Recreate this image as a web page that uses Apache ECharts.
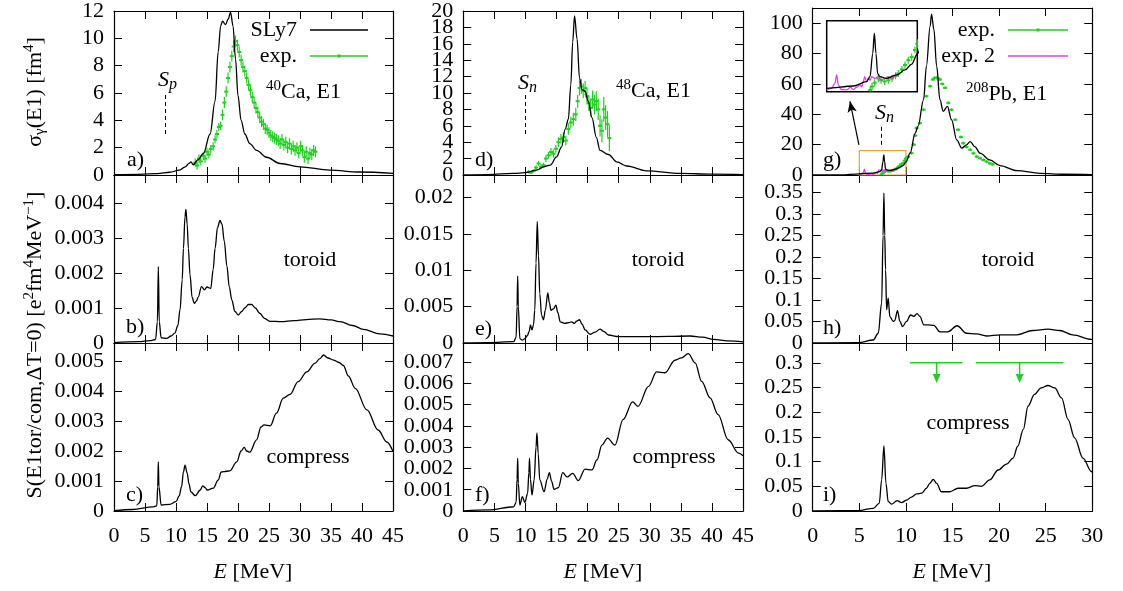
<!DOCTYPE html>
<html><head><meta charset="utf-8">
<script src="https://cdn.jsdelivr.net/npm/echarts/dist/echarts.min.js"></script>
<style>html,body{margin:0;padding:0;background:#fff}#c{width:1123px;height:591px}</style>
</head><body><div id="c"></div>
<script>
// ---------------- DATA ----------------
const xTicks45 = [0,5,10,15,20,25,30,35,40,45];
const xTicks30 = [0,5,10,15,20,25,30];
const yTicksA = [0,2,4,6,8,10,12];
const yTicksD = [0,2,4,6,8,10,12,14,16,18,20];
const yTicksG = [0,20,40,60,80,100];
const yTicksB = [0,0.001,0.002,0.003,0.004];
const yTicksE = [0,0.005,0.01,0.015,0.02];
const yTicksH = [0,0.05,0.1,0.15,0.2,0.25,0.3,0.35];
const yTicksC = [0,0.001,0.002,0.003,0.004,0.005];
const yTicksF = [0,0.001,0.002,0.003,0.004,0.005,0.006,0.007];
const yTicksI = [0,0.05,0.1,0.15,0.2,0.25,0.3];

// a) 40Ca sigma(E1) SLy7
const ca40Sigma = [[0,0.02],[4,0.05],[7,0.1],[9,0.2],[10.5,0.35],[11.5,0.6],[12.1,0.85],[12.4,0.96],[12.8,0.75],[13.5,1.1],[14.4,1.56],[15.5,3.0],[16.3,5.4],[16.8,9.0],[17.2,10.9],[17.5,11.25],[18.0,11.0],[18.4,11.4],[18.8,11.9],[19.2,10.9],[19.6,8.5],[20.0,5.8],[20.5,4.0],[21.1,3.0],[21.9,2.3],[23.0,1.8],[24.6,1.3],[26.8,0.84],[30,0.6],[34.8,0.36],[39.6,0.22],[45,0.12]];
// a) 40Ca experimental [E, sigma, error]
const ca40Exp = [[13.1,0.9,0.3],[13.4,0.7,0.3],[13.7,1.2,0.3],[14.0,1.0,0.3],[14.4,1.4,0.3],[14.7,1.2,0.3],[15.0,1.7,0.3],[15.3,1.5,0.3],[15.6,1.9,0.3],[16.0,2.1,0.3],[16.3,2.6,0.3],[16.6,3.0,0.3],[16.9,3.5,0.3],[17.2,3.6,0.3],[17.5,4.4,0.4],[17.8,5.3,0.4],[18.1,6.1,0.4],[18.4,7.1,0.4],[18.7,7.9,0.4],[19.0,8.7,0.4],[19.3,9.4,0.4],[19.6,9.8,0.4],[19.9,9.5,0.4],[20.2,9.0,0.4],[20.5,8.4,0.4],[20.8,7.9,0.4],[21.1,7.6,0.4],[21.4,7.1,0.4],[21.7,6.6,0.4],[22.0,6.2,0.4],[22.3,5.7,0.4],[22.6,5.3,0.4],[22.9,4.9,0.4],[23.2,4.6,0.4],[23.5,4.2,0.4],[23.8,3.9,0.4],[24.1,3.7,0.4],[24.4,3.4,0.4],[24.7,3.3,0.4],[25.0,3.1,0.4],[25.3,2.9,0.4],[25.6,2.8,0.4],[25.9,2.7,0.4],[26.2,2.6,0.4],[26.5,2.5,0.4],[26.8,2.3,0.4],[27.1,2.6,0.4],[27.4,2.2,0.4],[27.7,2.4,0.4],[28.0,2.0,0.4],[28.3,2.3,0.4],[28.6,1.9,0.4],[28.9,2.1,0.4],[29.2,1.8,0.4],[29.5,2.0,0.4],[29.8,1.6,0.4],[30.1,2.1,0.4],[30.4,1.8,0.4],[30.7,1.3,0.4],[31.0,1.7,0.4],[31.3,1.2,0.4],[31.6,1.6,0.4],[31.9,1.5,0.4],[32.2,1.8,0.4],[32.5,1.7,0.4]];
// b) 40Ca toroidal strength
const ca40Tor = [[0,0.00001],[4,0.00004],[5.8,0.00007],[6.7,0.0001],[7.0,0.0006],[7.15,0.00218],[7.3,0.0006],[7.6,0.00015],[8.5,0.00013],[9.2,0.0002],[9.8,0.00028],[10.3,0.0005],[10.65,0.00095],[11.0,0.0018],[11.2,0.0027],[11.45,0.0036],[11.6,0.00382],[11.8,0.0034],[12.0,0.0027],[12.26,0.00195],[12.6,0.0013],[12.96,0.00113],[13.3,0.0012],[13.6,0.00132],[14.1,0.00161],[14.6,0.00152],[15.0,0.0016],[15.6,0.00156],[16.0,0.0021],[16.3,0.0027],[16.7,0.0033],[17.1,0.0035],[17.4,0.0034],[17.8,0.0029],[18.2,0.0022],[18.6,0.0016],[19.0,0.00123],[19.5,0.0009],[20.05,0.0008],[20.6,0.0009],[21.1,0.001],[21.7,0.0011],[22.2,0.0011],[22.8,0.001],[23.5,0.00085],[24.3,0.0007],[25.2,0.00062],[27,0.00061],[29,0.00064],[31,0.00067],[33.2,0.00069],[35,0.00066],[36.5,0.00061],[38.5,0.0005],[40.2,0.00039],[42.9,0.00026],[45,0.0002]];
// c) 40Ca compression strength
const ca40Com = [[0,0.00001],[3,0.00005],[6.3,0.00014],[6.9,0.00017],[7.05,0.0008],[7.15,0.00164],[7.25,0.0008],[7.6,0.0002],[9.0,0.00022],[10.0,0.00031],[10.5,0.0005],[10.9,0.00081],[11.2,0.0013],[11.45,0.00153],[11.8,0.00126],[12.1,0.0009],[12.4,0.00064],[13.1,0.00051],[13.9,0.0007],[14.3,0.00084],[14.7,0.00078],[15.05,0.0007],[16.0,0.00076],[16.8,0.00103],[17.3,0.0013],[17.7,0.00131],[18.7,0.00134],[19.8,0.00164],[20.5,0.002],[21.0,0.00212],[21.4,0.002],[21.9,0.00196],[23.0,0.00237],[23.7,0.0028],[24.2,0.00287],[25.2,0.00284],[26.2,0.00326],[27.3,0.00376],[28.4,0.00389],[29.7,0.00431],[31.1,0.00464],[32.4,0.00492],[33.2,0.00508],[33.8,0.0052],[34.5,0.0051],[35.4,0.00503],[36.3,0.00495],[37.0,0.00485],[37.8,0.0045],[38.9,0.00409],[40.8,0.00337],[42.6,0.0027],[44,0.0023],[45,0.00198]];
// d) 48Ca sigma(E1) SLy7
const ca48Sigma = [[0,0.02],[4,0.05],[8,0.2],[10,0.28],[11.8,0.6],[12.9,1.0],[14.0,1.2],[15.0,2.2],[15.8,3.4],[16.4,5.6],[16.9,6.8],[17.3,11.0],[17.6,16.2],[17.9,19.4],[18.3,16.6],[18.7,11.8],[19.1,10.4],[19.6,10.2],[20.1,9.0],[20.7,7.0],[21.4,4.6],[22.0,3.0],[23.35,2.5],[24.7,1.6],[26.3,1.1],[29.5,0.5],[34.9,0.2],[40,0.1],[45,0.05]];
// d) 48Ca experimental [E, sigma, error]
const ca48Exp = [[10.5,0.4,0.2],[10.9,0.3,0.2],[11.3,0.5,0.2],[11.7,0.9,0.3],[12.1,1.4,0.3],[12.5,1.0,0.3],[12.9,1.2,0.3],[13.3,2.0,0.4],[13.7,2.4,0.4],[14.1,2.8,0.5],[14.5,2.6,0.5],[14.9,3.2,0.5],[15.3,4.0,0.6],[15.7,4.4,0.6],[16.1,4.6,0.6],[16.5,4.2,0.6],[16.9,5.6,0.7],[17.3,6.4,0.7],[17.7,6.8,0.8],[18.1,7.4,0.8],[18.4,9.0,0.8],[18.7,10.6,0.9],[19.0,10.8,0.9],[19.3,10.3,0.9],[19.6,10.6,0.9],[19.9,9.6,1.0],[20.2,8.8,1.0],[20.5,8.2,1.1],[20.8,9.2,1.1],[21.1,8.6,1.2],[21.4,9.0,1.2],[21.7,8.0,1.3],[22.0,6.0,1.3],[22.3,5.4,1.4],[22.6,8.0,1.5],[22.9,7.0,1.5],[23.2,6.2,1.6],[23.5,4.5,1.6]];
// e) 48Ca toroidal strength
const ca48Tor = [[0,0],[4,0.00005],[8.1,0.00018],[8.5,0.0008],[8.65,0.005],[8.75,0.0092],[8.85,0.005],[9.1,0.0006],[9.5,0.0004],[9.9,0.0006],[10.3,0.001],[10.6,0.0016],[10.8,0.0025],[11.05,0.0018],[11.3,0.0025],[11.5,0.0045],[11.7,0.011],[11.9,0.0167],[12.1,0.012],[12.3,0.0068],[12.6,0.0038],[12.9,0.0032],[13.2,0.0045],[13.6,0.0069],[13.85,0.0055],[14.1,0.0045],[14.5,0.0047],[14.9,0.0052],[15.2,0.0042],[15.6,0.0029],[16.3,0.0027],[17.0,0.0028],[17.4,0.0029],[17.9,0.0027],[18.2,0.003],[18.7,0.0032],[19.1,0.0026],[19.6,0.0018],[20.4,0.0012],[21.2,0.0015],[22.0,0.0019],[22.6,0.0016],[23.35,0.0011],[24.95,0.00087],[29.5,0.00087],[33,0.0009],[36.5,0.00096],[38.5,0.0008],[40.3,0.0005],[42.5,0.0003],[45,0.00015]];
// f) 48Ca compression strength
const ca48Com = [[0,0],[4,0.00005],[8.1,0.0002],[8.5,0.0004],[8.65,0.0015],[8.75,0.00248],[8.85,0.0013],[9.1,0.00028],[9.5,0.00068],[9.9,0.0004],[10.35,0.00083],[10.55,0.0018],[10.65,0.00248],[10.8,0.0015],[11.05,0.00075],[11.4,0.00146],[11.7,0.003],[11.85,0.00367],[12.05,0.0027],[12.3,0.00146],[13.0,0.00091],[13.5,0.0015],[13.85,0.0018],[14.2,0.0014],[14.6,0.00102],[15.3,0.0011],[16.0,0.0018],[16.7,0.0016],[17.6,0.00177],[18.5,0.00143],[19.6,0.00197],[20.7,0.00193],[21.5,0.0024],[22.3,0.0031],[23.2,0.00343],[24.4,0.0031],[25.7,0.0043],[27.25,0.00513],[28.1,0.00492],[29.8,0.00586],[31.1,0.00654],[32.45,0.0065],[34.05,0.00709],[35.1,0.0072],[36.2,0.0074],[37.3,0.00697],[38.35,0.0061],[39.7,0.00532],[41.0,0.00453],[42.6,0.00335],[44.3,0.00272],[45,0.0026]];
// g) 208Pb sigma(E1) SLy7
const pbSigma = [[0,0],[3,0.1],[5,0.77],[6.47,1.28],[7.2,2.25],[7.39,3.4],[7.54,8.6],[7.63,13.2],[7.72,8.6],[7.81,4.1],[7.94,3.4],[8.3,3.0],[8.86,3.8],[9.32,4.9],[9.69,6.2],[10.0,8.5],[10.45,14.4],[11.0,27.6],[11.3,32],[11.9,49.7],[12.2,71.7],[12.6,98],[12.75,106],[13.0,96],[13.3,71.7],[13.65,49.7],[14.0,41.9],[14.45,45.2],[14.9,36.4],[15.45,23.2],[16.0,17.7],[16.5,19.9],[16.9,22.0],[17.4,18.7],[17.95,14.4],[19.0,9.9],[20.1,6.2],[21.9,2.9],[24.4,1.1],[27,0.5],[30,0.3]];
// g) 208Pb experimental [E, sigma, error]
const pbExp = [[7.4,0.4,0.8],[7.5,1.2,0.8],[7.65,2.0,0.8],[7.85,3.0,0.8],[8.0,2.6,0.8],[8.2,2.3,0.8],[8.4,2.6,0.8],[8.6,3.0,0.8],[8.8,3.6,0.8],[8.95,4.1,0.8],[9.15,5.0,0.8],[9.32,6.0,0.8],[9.5,7.1,0.8],[9.69,7.8,0.8],[9.87,9.4,0.8],[10.0,10.8,1],[10.25,12.0,1],[10.6,14.4,1],[10.85,20,1],[11.0,26,1],[11.15,30.9,1],[11.5,34.2,1],[11.9,43,1],[12.2,51.9,1],[12.6,58.5,1],[12.9,62.9,1],[13.1,64,1],[13.3,64,1],[13.5,63.5,1],[13.65,62.9,1],[13.9,60,1],[14.2,57.4,1],[14.55,47.5,1],[14.9,43,1],[15.3,36.4,1],[15.6,29.8,1],[15.9,25,1],[16.15,21,1],[16.5,18.5,1],[16.9,16.6,1],[17.25,14.3,1],[17.6,12.1,1],[17.95,11,1],[18.3,9.9,1],[18.65,8.8,1],[19.0,7.7,1],[19.3,7.0,1]];
// g) 208Pb experimental 2
const pbExp2 = [[5.0,0.4],[5.28,0.8],[5.46,2.0],[5.55,3.8],[5.64,1.5],[5.8,0.5],[6.1,0.4],[6.3,1.0],[6.47,0.5],[6.65,1.0],[6.84,1.5],[6.93,1.1],[7.02,2.25],[7.1,3.4],[7.2,2.3],[7.3,3.0],[7.4,2.6],[7.48,3.4],[7.67,3.0],[7.85,3.4],[8.0,2.6],[8.2,3.0],[8.4,3.4],[8.6,3.0],[8.75,3.4],[8.95,3.8]];
// h) 208Pb toroidal strength
const pbTor = [[0,0],[4.9,0.001],[6.5,0.007],[7.03,0.0226],[7.4,0.093],[7.55,0.25],[7.64,0.348],[7.73,0.25],[7.82,0.17],[7.93,0.077],[8.1,0.104],[8.28,0.061],[8.64,0.05],[8.8,0.052],[9.1,0.075],[9.36,0.05],[9.64,0.038],[10.07,0.05],[10.5,0.065],[10.85,0.062],[11.2,0.068],[11.5,0.062],[11.93,0.042],[12.4,0.042],[13.0,0.041],[13.65,0.026],[14.5,0.026],[15.5,0.04],[16.5,0.0226],[17.6,0.021],[18.65,0.0163],[20.1,0.019],[21.9,0.019],[23.6,0.029],[25.25,0.032],[26.5,0.029],[27.9,0.019],[29.9,0.0086],[30,0.0085]];
// i) 208Pb compression strength
const pbCom = [[0,0],[4.9,0.0007],[6.5,0.0055],[7.14,0.0156],[7.4,0.063],[7.64,0.132],[7.86,0.056],[8.1,0.019],[8.46,0.014],[9.07,0.021],[9.54,0.017],[10.07,0.022],[10.6,0.028],[11.15,0.0345],[11.7,0.036],[12.2,0.046],[12.57,0.056],[12.93,0.064],[13.3,0.056],[13.8,0.039],[14.7,0.039],[15.6,0.046],[16.5,0.046],[17.4,0.0515],[18.1,0.05],[19.0,0.063],[19.9,0.083],[20.8,0.095],[21.5,0.107],[22.0,0.131],[22.6,0.165],[23.1,0.212],[23.8,0.236],[24.5,0.249],[25.25,0.254],[25.97,0.249],[26.7,0.229],[27.4,0.185],[28.1,0.148],[29.0,0.107],[29.9,0.08],[30,0.078]];
// i) experimental upper limits [Elow, Ehigh, Ecentre, value, arrowTip]
const pbComLimits = [[10.43,16.07,13.3,0.3,0.259],[17.5,26.9,22.2,0.3,0.259]];
// threshold markers [E, yLow, yHigh]
const spCa40 = [8.3,3.0,6.0];
const snCa48 = [9.95,5.0,9.9];
const snPb = [7.4,19.9,33.6];
// inset pointer arrow [E0, y0, E1, y1] and zoom box [E0, y0, E1, y1]
const pbArrow = [4.96,19.9,4.0,48.5];
const pbBox = [5,0,10,16];

// ---------------- LAYOUT ----------------
const FONT = 'Liberation Serif';
const GREEN = '#1fd11f', MAG = '#e040e0', ORANGE = '#e8a33a';
const COLS = [{left:114,width:279},{left:463.3,width:279.7},{left:812.7,width:279.6}];
const ROWS = [{top:8,height:167},{top:175,height:168},{top:343,height:168}];
// panels: index = row*3+col
const PANELS = [
  {xMax:45,yMax:12,yT:yTicksA},
  {xMax:45,yMax:20,yT:yTicksD},
  {xMax:30,yMax:110,yT:yTicksG},
  {xMax:45,yMax:0.0048,yT:yTicksB},
  {xMax:45,yMax:0.0231,yT:yTicksE},
  {xMax:30,yMax:0.39,yT:yTicksH},
  {xMax:45,yMax:0.0056,yT:yTicksC},
  {xMax:45,yMax:0.0079,yT:yTicksF},
  {xMax:30,yMax:0.34,yT:yTicksI}
];
const X_TICKS = {45:xTicks45,30:xTicks30};

const grids=[], xAxes=[], yAxes=[];
const lineSt = {color:'#000',width:1.2};
const tickSt = {color:'#000',width:1};
const lblBase = {color:'#000',fontFamily:FONT,fontSize:22,hideOverlap:false};
PANELS.forEach((p,gi)=>{
  const r=Math.floor(gi/3), c=gi%3;
  grids.push({left:COLS[c].left,width:COLS[c].width,top:ROWS[r].top,height:ROWS[r].height,containLabel:false});
  const xt = X_TICKS[p.xMax];
  // x axes: bottom (index 2gi) and mirrored top (2gi+1)
  xAxes.push({type:'value',gridIndex:gi,position:'bottom',min:0,max:p.xMax,
    axisLine:{show:true,onZero:false,lineStyle:lineSt},
    axisTick:{show:true,inside:true,length:8,customValues:xt,lineStyle:tickSt},
    axisLabel:Object.assign({show:r===2,margin:14,customValues:xt,showMinLabel:true,showMaxLabel:true},lblBase),
    splitLine:{show:false}});
  xAxes.push({type:'value',gridIndex:gi,position:'top',min:0,max:p.xMax,
    axisLine:{show:true,onZero:false,lineStyle:lineSt},
    axisTick:{show:true,inside:true,length:8,customValues:xt,lineStyle:tickSt},
    axisLabel:{show:false},splitLine:{show:false}});
  // y axes: left with even labels (3gi), left with odd labels (3gi+1), mirrored right (3gi+2)
  const ev = p.yT.filter((v,i)=>i%2===0), od = p.yT.filter((v,i)=>i%2===1);
  yAxes.push({type:'value',gridIndex:gi,position:'left',offset:0,min:0,max:p.yMax,
    axisLine:{show:true,onZero:false,lineStyle:lineSt},
    axisTick:{show:true,inside:true,length:8,customValues:p.yT,lineStyle:tickSt},
    axisLabel:Object.assign({show:true,customValues:ev,margin:10,showMinLabel:true,showMaxLabel:true},lblBase),
    splitLine:{show:false}});
  yAxes.push({type:'value',gridIndex:gi,position:'left',offset:0,min:0,max:p.yMax,
    axisLine:{show:false},axisTick:{show:false},
    axisLabel:Object.assign({show:true,customValues:od,margin:10,showMinLabel:true,showMaxLabel:true},lblBase),
    splitLine:{show:false}});
  yAxes.push({type:'value',gridIndex:gi,position:'right',min:0,max:p.yMax,
    axisLine:{show:true,onZero:false,lineStyle:lineSt},
    axisTick:{show:true,inside:true,length:8,customValues:p.yT,lineStyle:tickSt},
    axisLabel:{show:false},splitLine:{show:false}});
});
// inset grid (index 9): xAxis 18, yAxis 27
grids.push({left:826.7,top:20.7,width:90.6,height:71,show:true,borderColor:'#000',borderWidth:1.5,backgroundColor:'#fff',containLabel:false});
xAxes.push({type:'value',gridIndex:9,min:pbBox[0],max:pbBox[2],show:false});
yAxes.push({type:'value',gridIndex:9,min:pbBox[1],max:pbBox[3],show:false});
const XI = gi => gi===9 ? 18 : 2*gi;
const YI = gi => gi===9 ? 27 : 3*gi;

function lineSeries(gi,data,color,extra){
  return Object.assign({type:'line',xAxisIndex:XI(gi),yAxisIndex:YI(gi),data:data,
    showSymbol:false,symbol:'none',smooth:0.35,smoothMonotone:'x',clip:true,
    lineStyle:{color:color,width:1.3},itemStyle:{color:color},z:3},extra||{});
}
function errRender(params,api){
  const x=api.value(0),y=api.value(1),e=api.value(2);
  const p=api.coord([x,y]),lo=api.coord([x,y-e]),hi=api.coord([x,y+e]);
  return {type:'group',children:[
    {type:'line',shape:{x1:p[0],y1:lo[1],x2:p[0],y2:hi[1]},style:{stroke:GREEN,lineWidth:1.2}},
    {type:'line',shape:{x1:p[0]-2,y1:p[1],x2:p[0]+2,y2:p[1]},style:{stroke:GREEN,lineWidth:2}}
  ]};
}
function errSeries(gi,data,z){
  return {type:'custom',xAxisIndex:XI(gi),yAxisIndex:YI(gi),data:data,
    renderItem:errRender,clip:true,z:z||2,encode:{x:0,y:1}};
}
function limRender(params,api){
  const a=api.coord([api.value(0),api.value(3)]), b=api.coord([api.value(1),api.value(3)]);
  const c0=api.coord([api.value(2),api.value(3)]), tip=api.coord([api.value(2),api.value(4)]);
  return {type:'group',children:[
    {type:'line',shape:{x1:a[0],y1:a[1],x2:b[0],y2:b[1]},style:{stroke:GREEN,lineWidth:1.5}},
    {type:'line',shape:{x1:c0[0],y1:c0[1],x2:tip[0],y2:tip[1]-6},style:{stroke:GREEN,lineWidth:1.5}},
    {type:'polygon',shape:{points:[[tip[0]-4,tip[1]-9],[tip[0]+4,tip[1]-9],[tip[0],tip[1]]]},style:{fill:GREEN}}
  ]};
}
function dashMark(m){
  return {silent:true,symbol:['none','none'],label:{show:false},animation:false,
    lineStyle:{type:[4,3],color:'#000',width:1},
    data:[[{coord:[m[0],m[1]]},{coord:[m[0],m[2]]}]]};
}

const series = [
  lineSeries(0,ca40Sigma,'#000',{markLine:dashMark(spCa40)}),
  errSeries(0,ca40Exp),
  lineSeries(1,ca48Sigma,'#000',{markLine:dashMark(snCa48)}),
  errSeries(1,ca48Exp),
  lineSeries(2,pbExp2,MAG,{z:2}),
  errSeries(2,pbExp),
  lineSeries(2,pbSigma,'#000',{
    markLine:dashMark(snPb),
    markArea:{silent:true,label:{show:false},itemStyle:{color:'rgba(0,0,0,0)',borderColor:ORANGE,borderWidth:1.2},
      data:[[{coord:[pbBox[0],pbBox[1]]},{coord:[pbBox[2],pbBox[3]]}]]}
  }),
  lineSeries(2,[],'#000',{markLine:{silent:true,label:{show:false},animation:false,symbol:['none','arrow'],symbolSize:[7,11],
      lineStyle:{type:'solid',color:'#000',width:1.2},
      data:[[{coord:[pbArrow[0],pbArrow[1]]},{coord:[pbArrow[2],pbArrow[3]]}]]}}),
  lineSeries(3,ca40Tor,'#000'),
  lineSeries(4,ca48Tor,'#000'),
  lineSeries(5,pbTor,'#000'),
  lineSeries(6,ca40Com,'#000'),
  lineSeries(7,ca48Com,'#000'),
  lineSeries(8,pbCom,'#000'),
  {type:'custom',xAxisIndex:XI(8),yAxisIndex:YI(8),data:pbComLimits,renderItem:limRender,clip:false,z:2,encode:{x:2,y:3}},
  // inset
  lineSeries(9,pbExp2,MAG,{z:12}),
  errSeries(9,pbExp,12),
  lineSeries(9,pbSigma,'#000',{z:13})
];

// ---------------- TEXT ----------------
const R = {
  sup:{fontSize:15,fontFamily:FONT,verticalAlign:'top',lineHeight:13,fill:'#000'},
  sub:{fontSize:15,fontFamily:FONT,verticalAlign:'bottom',lineHeight:14,fill:'#000'},
  it:{fontSize:22,fontFamily:FONT,fontStyle:'italic',fill:'#000'},
  itsub:{fontSize:16,fontFamily:FONT,fontStyle:'italic',verticalAlign:'bottom',lineHeight:14,fill:'#000'}
};
function T(x,y,text,align,vAlign,rot){
  return {type:'text',x:x,y:y,rotation:rot||0,silent:true,z:20,
    style:{text:text,fill:'#000',fontSize:22,fontFamily:FONT,align:align||'left',verticalAlign:vAlign||'middle',rich:R,lineHeight:26}};
}
const graphics = [
  T(127,160,'a)'),T(126,327,'b)'),T(126,495,'c)'),
  T(475,160,'d)'),T(475,329,'e)'),T(475,495,'f)'),
  T(823,160,'g)'),T(823,328,'h)'),T(823,495,'i)'),
  T(310,260,'toroid','center'),T(658,260,'toroid','center'),T(1008,260,'toroid','center'),
  T(308,457,'compress','center'),T(674,457,'compress','center'),T(968,423,'compress','center'),
  T(266,92,'{sup|40}Ca, E1'),T(616,91,'{sup|48}Ca, E1'),T(966,94,'{sup|208}Pb, E1'),
  T(158,80,'{it|S}{itsub|p}'),T(518,83,'{it|S}{itsub|n}'),T(875,113,'{it|S}{itsub|n}'),
  T(297,30,'SLy7','right'),T(297,56,'exp.','right'),
  T(995,30,'exp.','right'),T(995,56,'exp. 2','right'),
  T(35,92,'σ{sub|γ}(E1) [fm{sup|4}]','center','middle',Math.PI/2),
  T(35,345,'S(E1tor/com,ΔT=0) [e{sup|2}fm{sup|4}MeV{sup|−1}]','center','middle',Math.PI/2),
  T(253,572,'{it|E} [MeV]','center'),T(603,572,'{it|E} [MeV]','center'),T(952,572,'{it|E} [MeV]','center'),
  // legend samples
  {type:'line',silent:true,z:20,shape:{x1:310,y1:30,x2:368,y2:30},style:{stroke:'#000',lineWidth:1.3}},
  {type:'line',silent:true,z:20,shape:{x1:310,y1:56,x2:368,y2:56},style:{stroke:GREEN,lineWidth:1.3}},
  {type:'rect',silent:true,z:20,shape:{x:337.5,y:54.5,width:3,height:3},style:{fill:GREEN}},
  {type:'line',silent:true,z:20,shape:{x1:1008,y1:30,x2:1068,y2:30},style:{stroke:GREEN,lineWidth:1.3}},
  {type:'rect',silent:true,z:20,shape:{x:1036.5,y:28.5,width:3,height:3},style:{fill:GREEN}},
  {type:'line',silent:true,z:20,shape:{x1:1008,y1:56,x2:1068,y2:56},style:{stroke:MAG,lineWidth:1.3}}
];

const chart = echarts.init(document.getElementById('c'),null,{renderer:'canvas'});
chart.setOption({
  animation:false,backgroundColor:'#fff',
  grid:grids,xAxis:xAxes,yAxis:yAxes,series:series,graphic:graphics
});
</script></body></html>
